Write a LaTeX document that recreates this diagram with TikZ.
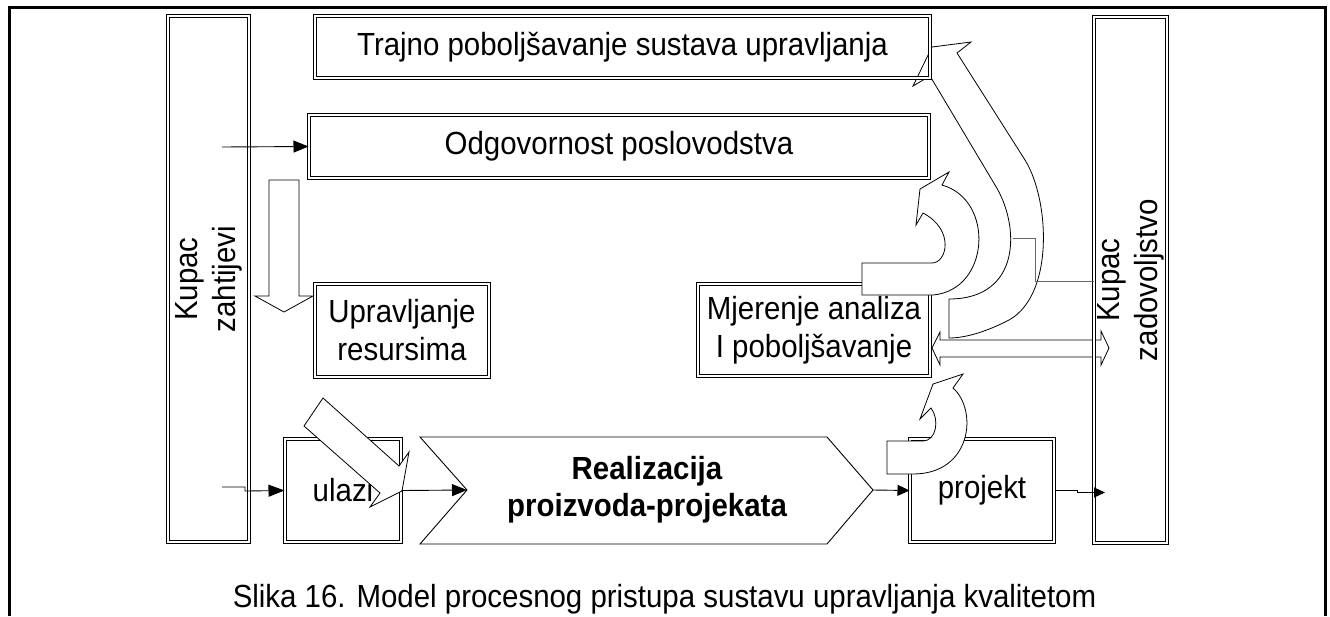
\documentclass[tikz,border=0pt]{standalone}
\usepackage{fontspec}
\setmainfont[FakeStretch=0.92]{Liberation Sans}
\usetikzlibrary{arrows.meta}

\begin{document}
\begin{tikzpicture}[x=1pt,y=-1pt,
  every node/.style={font=\fontsize{32}{38}\selectfont},
  dblbox/.style={draw, double, double distance=2pt, line width=1pt, inner sep=0pt, align=center},
  blockarrow/.style={draw, fill=white, line width=0.8pt},
  flow/.style={line width=0.9pt, -{Triangle[length=15pt,width=12pt]}}]
\useasboundingbox (0,0) rectangle (1330,616);
% outer frame
\draw[line width=3pt] (9,616) -- (9,7) -- (1325,7) -- (1325,616);
% large curved arrow up to the top box
\draw[blockarrow] (949,299) .. controls (1022,299) and (1020,225) .. (995,185) -- (930,76)
  -- (913,86) -- (932,47) -- (971,42) -- (957,53) -- (1025,160)
  .. controls (1050,200) and (1055,300) .. (1005,322)
  .. controls (985,332) and (965,338) .. (949,338) -- cycle;
% two-way arrow to the customer
\draw[blockarrow] (932,348) -- (940,332) -- (940,340) -- (1101,340) -- (1101,331) -- (1109,348)
  -- (1101,365) -- (1101,357) -- (940,357) -- (940,365) -- cycle;
% boxes
\node[dblbox, minimum width=615pt, minimum height=62pt] (trajno) at (622.5,47) {Trajno poboljšavanje sustava upravljanja};
\node[dblbox, minimum width=620pt, minimum height=63pt] (odgov) at (619,146.5) {Odgovornost poslovodstva};
\node[dblbox, minimum width=174pt, minimum height=93pt] (uprav) at (402,330.5) {Upravljanje\\resursima};
\node[dblbox, minimum width=232pt, minimum height=92pt] (mjer) at (814,330) {Mjerenje analiza\\I poboljšavanje};
\node[dblbox, minimum width=116pt, minimum height=103pt] (ulaz) at (343,490.5) {ulazi};
\node[dblbox, minimum width=144pt, minimum height=103pt] (proj) at (982,490.5) {projekt};
\node[dblbox, rotate=90, minimum width=526pt, minimum height=81pt] (zaht) at (208.5,279) {Kupac\\zahtijevi};
\node[dblbox, rotate=90, minimum width=526pt, minimum height=73pt] (zadov) at (1130.5,280) {Kupac\\zadovoljstvo};
% product realisation
\draw[line width=0.9pt] (420,437) -- (827,437) -- (873,490) -- (827,544) -- (420,544) -- (467,490) -- cycle;
\node[font=\bfseries\fontsize{32}{37}\selectfont, align=center] (real) at (647,490) {Realizacija\\proizvoda-projekata};
\coordinate (realin) at (467,490);
\coordinate (realout) at (873,490);
% block arrows
\draw[blockarrow] (269,180) -- (269,296) -- (255,296) -- (284,312) -- (313,296) -- (299,296) -- (299,180) -- cycle;
\draw[blockarrow] (323,398) -- (399,466) -- (409,452) -- (402,491) -- (370,507) -- (380,493) -- (304,426) -- cycle;
\draw[blockarrow] (862,263) -- (932,263) .. controls (947,263) and (955,230) .. (923,213) -- (916,225)
  -- (920,189) -- (949,172) -- (942,185) .. controls (995,200) and (990,290) .. (933,295) -- (862,295) -- cycle;
\draw[blockarrow] (887,441) -- (923,441) .. controls (936,441) and (940,420) .. (931,408) -- (920,419)
  -- (933,384) -- (963,374) -- (953,388) .. controls (978,410) and (972,474) .. (913,474) -- (887,474) -- cycle;
% connectors
\coordinate (zin1) at (222,147);
\coordinate (zin2) at (222,487);
\coordinate (zout) at (1105,492.5);
\coordinate (bigin) at (1013,238);
\draw[flow] (zin1) -- (odgov.west);
\draw[flow, -{Triangle[length=16pt,width=12pt]}] (zin2) -- ++(23,0) -- ++(0,4) -- (ulaz.west);
\draw[flow] (ulaz.east) -- (realin);
\draw[flow, -{Triangle[length=12pt,width=11pt]}] (realout) -- (proj.west);
\draw[flow, -{Triangle[length=11pt,width=10pt]}] (proj.east) -- ++(23,0) -- ++(0,2) -- (zout);
\draw[black!60, line width=1pt] (zadov.north |- 0,281) -- (1035,281) -- (1035,238) -- (bigin);
% caption
\node[anchor=base] (cap) at (664.5,607) {Slika 16. Model procesnog pristupa sustavu upravljanja kvalitetom};
\end{tikzpicture}
\end{document}
